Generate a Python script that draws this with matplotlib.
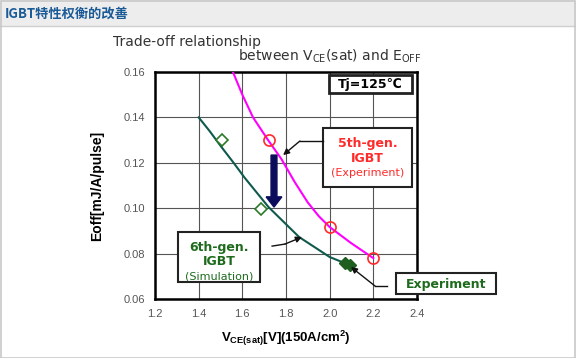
import matplotlib
matplotlib.use("Agg")
import matplotlib.pyplot as plt
from matplotlib.patches import Rectangle, FancyArrow

plt.rcParams['font.family'] = ['Liberation Sans', 'DejaVu Sans', 'Noto Sans CJK SC']
WIDE = ['DejaVu Sans']

# -----------------------
# data
# -----------------------
gen5_curve_v = [1.557, 1.60, 1.649, 1.718, 1.78, 1.84, 1.90, 1.95, 2.00, 2.10, 2.20]
gen5_curve_e = [0.160, 0.150, 0.140, 0.130, 0.1215, 0.1115, 0.1025, 0.0965, 0.0917, 0.0845, 0.078]
gen5_pts_v = [1.72, 2.00, 2.20]
gen5_pts_e = [0.130, 0.0917, 0.078]

gen6_curve_v = [1.40, 1.45, 1.50, 1.56, 1.61, 1.72, 1.86, 2.00, 2.09]
gen6_curve_e = [0.140, 0.134, 0.1275, 0.120, 0.1135, 0.1005, 0.0873, 0.0785, 0.075]
gen6_sim_v = [1.507, 1.686]
gen6_sim_e = [0.130, 0.0996]
gen6_exp_v = [2.07, 2.095]
gen6_exp_e = [0.0758, 0.0749]

arrow_v = 1.745
arrow_e = (0.1234, 0.1005)

xticks = [1.2, 1.4, 1.6, 1.8, 2.0, 2.2, 2.4]
yticks = [0.06, 0.08, 0.10, 0.12, 0.14, 0.16]

magenta = '#ff00ff'
teal = '#0f5a4c'
green = '#1e6b1e'
red = '#ff2a2a'
navy = '#0c0c5c'

W, H = 576, 358
fig = plt.figure(figsize=(W / 100, H / 100), dpi=100)

# -----------------------
# page header + frame
# -----------------------
fig.patches.append(Rectangle((0, 1 - 26 / H), 1, 26 / H, transform=fig.transFigure,
                             facecolor='#ededed', edgecolor='none', zorder=0))
fig.add_artist(plt.Line2D([0, 1], [1 - 26 / H] * 2, color='#cfcfcf', lw=1))
fig.patches.append(Rectangle((0.5 / W, 0.5 / H), 1 - 1.5 / W, 1 - 1.5 / H, transform=fig.transFigure,
                             facecolor='none', edgecolor='#c8c8c8', lw=1.2, zorder=5))
fig.text(5 / W, 1 - 14 / H, 'IGBT特性权衡的改善', color='#1a5a96', fontsize=9.5,
         fontweight='bold', va='center', ha='left',
         family=['Noto Sans CJK SC', 'DejaVu Sans'])

fig.text(113 / W, 1 - 42 / H, 'Trade-off relationship', color='#333333',
         fontsize=10, va='center', ha='left', family=WIDE)
fig.text(421 / W, 1 - 56 / H, r'between V$_{\mathregular{CE}}$(sat) and E$_{\mathregular{OFF}}$',
         color='#333333', fontsize=10, va='center', ha='right', family=WIDE)

# -----------------------
# axes
# -----------------------
ax = fig.add_axes([155 / W, 1 - 299 / H, 262 / W, 227 / H])
ax.set_xlim(1.2, 2.4)
ax.set_ylim(0.06, 0.16)
ax.set_xticks(xticks)
ax.set_yticks(yticks)
ax.set_xticklabels([f'{v:.1f}' for v in xticks])
ax.set_yticklabels([f'{v:.2f}' for v in yticks])
ax.tick_params(length=0, labelsize=8, labelcolor='#555555', pad=7)
ax.grid(True, color='#555555', lw=0.8)
ax.set_axisbelow(True)
for s in ax.spines.values():
    s.set_linewidth(1.8)
    s.set_color('black')

ax.set_ylabel('Eoff[mJ/A/pulse]', fontsize=10, fontweight='bold', labelpad=14)
ax.set_xlabel(r'V$_{\mathregular{CE(sat)}}$[V](150A/cm$^{\mathregular{2}}$)',
              fontsize=9.5, fontweight='bold', labelpad=7)

# curves and markers
ax.plot(gen5_curve_v, gen5_curve_e, color=magenta, lw=1.5, zorder=3)
ax.plot(gen6_curve_v, gen6_curve_e, color=teal, lw=1.5, zorder=3)
ax.plot(gen5_pts_v, gen5_pts_e, 'o', mfc='none', mec=red, mew=1.2, ms=8, zorder=4)
ax.plot(gen6_sim_v, gen6_sim_e, 'D', mfc='white', mec='#2a7a2a', mew=1.2, ms=6, zorder=4)
ax.plot(gen6_exp_v, gen6_exp_e, 'D', mfc='#1e5e1e', mec='#1e5e1e', ms=6, zorder=4)

# improvement arrow
ax.add_patch(FancyArrow(arrow_v, arrow_e[0], 0, arrow_e[1] - arrow_e[0],
                        width=0.027, head_width=0.072, head_length=0.0045,
                        length_includes_head=True, color=navy, zorder=5))

# -----------------------
# annotation boxes
# -----------------------
def box(x0, y0, x1, y1, lw=1.5):
    ax.add_patch(Rectangle((x0, y0), x1 - x0, y1 - y0, transform=ax.transAxes,
                           facecolor='white', edgecolor='#222222', lw=lw,
                           clip_on=False, zorder=6))

def label(x, y, s, color='black', size=9, bold=True):
    ax.text(x, y, s, transform=ax.transAxes, ha='center', va='center', family=WIDE,
            fontsize=size, fontweight='bold' if bold else 'normal', color=color, zorder=7)

box(0.664, 0.907, 0.981, 0.987, lw=2)
label(0.822, 0.947, 'Tj=125℃')

box(0.641, 0.493, 0.981, 0.753)
label(0.811, 0.687, '5th-gen.', red)
label(0.811, 0.621, 'IGBT', red)
label(0.811, 0.553, '(Experiment)', red, size=8, bold=False)

box(0.088, 0.075, 0.401, 0.295)
label(0.244, 0.225, '6th-gen.', green)
label(0.244, 0.163, 'IGBT', green)
label(0.244, 0.099, '(Simulation)', green, size=8, bold=False)

box(0.920, 0.022, 1.302, 0.115)
label(1.111, 0.066, 'Experiment', green)

# leader lines
def leader(pts, tip):
    xs = [p[0] for p in pts]
    ys = [p[1] for p in pts]
    ax.plot(xs, ys, color='#111111', lw=1, transform=ax.transAxes, clip_on=False, zorder=6)
    ax.annotate('', xy=tip, xytext=pts[-1], xycoords='axes fraction',
                arrowprops=dict(arrowstyle='-|>', color='#111111', lw=1,
                                mutation_scale=9, shrinkA=0, shrinkB=0), zorder=6)

leader([(0.641, 0.696), (0.553, 0.696)], (0.489, 0.634))
leader([(0.447, 0.233), (0.496, 0.242)], (0.561, 0.273))
leader([(0.885, 0.057), (0.840, 0.057)], (0.748, 0.141))

fig.savefig('out.png', dpi=100)
